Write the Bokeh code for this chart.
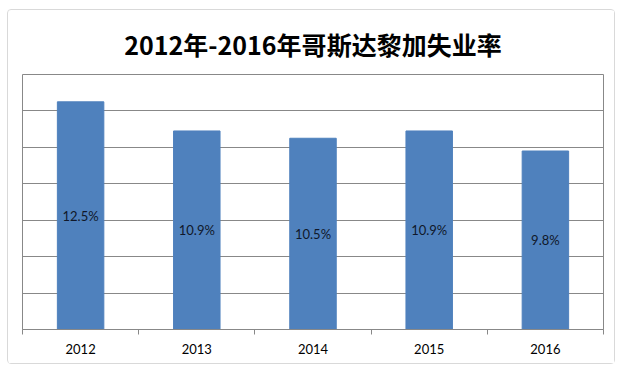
from bokeh.plotting import figure
from bokeh.models import ColumnDataSource, FixedTicker, Range1d, LabelSet
from bokeh.core.properties import value
from bokeh.embed import file_html
from bokeh.resources import INLINE

years = ["2012", "2013", "2014", "2015", "2016"]
rates = [12.5, 10.9, 10.5, 10.9, 9.8]
labels = ["12.5%", "10.9%", "10.5%", "10.9%", "9.8%"]
title_text = "2012年-2016年哥斯达黎加失业率"

xs = [i + 0.5 for i in range(len(years))]
src = ColumnDataSource(dict(x=xs, top=rates, mid=[r / 2 for r in rates], lab=labels))

p = figure(frame_width=581, frame_height=255, output_backend="svg", toolbar_location=None,
           x_range=Range1d(0, 5), y_range=Range1d(0, 14),
           min_border_left=14, min_border_right=11, min_border_top=63, min_border_bottom=34)
p.title.text = title_text
p.title.align = "center"
p.title.text_font = "Noto Sans CJK SC"
p.title.text_font_size = "25px"
p.title.text_font_style = "bold"
p.title.text_color = "#000000"
p.title.standoff = 26

p.vbar(x="x", top="top", width=0.4, source=src, color="#4F81BD")
p.add_layout(LabelSet(x="x", y="mid", text="lab", source=src, text_align="center",
                      text_baseline="middle", text_font_size="13px", text_font=value("Lato"),
                      text_color="#10182a"))

p.yaxis.visible = False
p.ygrid.ticker = FixedTicker(ticks=[0, 2, 4, 6, 8, 10, 12, 14])
p.ygrid.grid_line_color = "#888888"
p.xgrid.visible = False

p.xaxis.ticker = FixedTicker(ticks=xs, minor_ticks=[0, 1, 2, 3, 4, 5])
p.xaxis.major_label_overrides = {x: y for x, y in zip(xs, years)}
p.xaxis.major_tick_line_color = None
p.xaxis.minor_tick_out = 5
p.xaxis.minor_tick_in = 0
p.xaxis.minor_tick_line_color = "#888888"
p.xaxis.axis_line_color = "#888888"
p.xaxis.major_label_text_font = "Lato"
p.xaxis.major_label_text_font_size = "13px"
p.xaxis.major_label_text_color = "#000000"
p.xaxis.major_label_standoff = 8

p.outline_line_color = "#888888"
p.styles = {"border": "1px solid #d9d9d9", "border-radius": "4px",
            "margin-left": "7px", "margin-top": "9px"}

open("out.html", "w").write(file_html(p, INLINE))
